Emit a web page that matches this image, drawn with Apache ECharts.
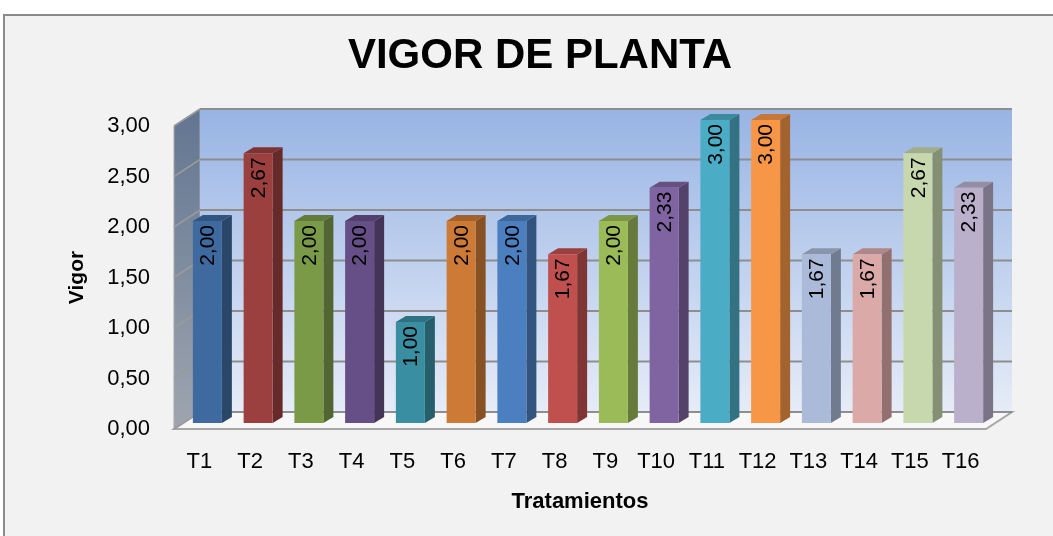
<!DOCTYPE html>
<html>
<head>
<meta charset="utf-8">
<script src="https://cdn.jsdelivr.net/npm/echarts@6/dist/echarts.min.js"></script>
<style>
html, body { margin: 0; padding: 0; background: #fff; }
#chart { width: 1053px; height: 536px; }
</style>
</head>
<body>
<div id="chart"></div>
<script>
var categories = ['T1','T2','T3','T4','T5','T6','T7','T8','T9','T10','T11','T12','T13','T14','T15','T16'];
var vigor = [2.00, 2.67, 2.00, 2.00, 1.00, 2.00, 2.00, 1.67, 2.00, 2.33, 3.00, 3.00, 1.67, 1.67, 2.67, 2.33];
var yTicks = [0, 0.5, 1, 1.5, 2, 2.5, 3];

var barColors = ['#3f6a9f','#9b403e','#7a9a48','#664f86','#3a8ea2','#cc7a36','#4c7fbf','#c0504d',
                 '#9bbb59','#8064a2','#4bacc6','#f79646','#aabad8','#dba9a8','#c8d8ae','#bab0cb'];

// 3d offsets (front plane -> bar plane -> back wall)
var BAR_DX = 8, BAR_DY = -6;
var WALL_DX = 26, WALL_DY = -17;
var DEPTH_X = 10, DEPTH_Y = -6;
var BAR_W = 29;

function shade(hex, k) {
	var n = parseInt(hex.slice(1), 16);
	var r = Math.round(((n >> 16) & 255) * k), g = Math.round(((n >> 8) & 255) * k), b = Math.round((n & 255) * k);
	return 'rgb(' + r + ',' + g + ',' + b + ')';
}
function fmt(v) { return v.toFixed(2).replace('.', ','); }

var myChart = echarts.init(document.getElementById('chart'));

function renderWalls(params, api) {
	var cs = params.coordSys;
	var gx = cs.x, gw = cs.width;
	var y0 = api.coord([0, 0])[1], y3 = api.coord([0, 3])[1];
	var kids = [];
	// left wall
	kids.push({
		type: 'polygon',
		shape: { points: [[gx, y0], [gx, y3], [gx + WALL_DX, y3 + WALL_DY], [gx + WALL_DX, y0 + WALL_DY]] },
		style: {
			fill: new echarts.graphic.LinearGradient(0, 0, 0, 1, [
				{ offset: 0, color: '#627591' }, { offset: 1, color: '#9ea5af' }
			]),
			stroke: '#a8a8a8', lineWidth: 1
		}
	});
	// back wall
	kids.push({
		type: 'rect',
		shape: { x: gx + WALL_DX, y: y3 + WALL_DY, width: gw, height: y0 - y3 },
		style: {
			fill: new echarts.graphic.LinearGradient(0, 0, 0, 1, [
				{ offset: 0, color: '#98b4e4' }, { offset: 1, color: '#e6ecf7' }
			])
		}
	});
	// floor
	kids.push({
		type: 'polygon',
		shape: { points: [[gx, y0], [gx + gw, y0], [gx + gw + WALL_DX, y0 + WALL_DY], [gx + WALL_DX, y0 + WALL_DY]] },
		style: { fill: '#f7f7f7', stroke: '#a6a6a6', lineWidth: 2 }
	});
	// grid lines
	yTicks.forEach(function (t) {
		var y = api.coord([0, t])[1];
		kids.push({
			type: 'line',
			shape: { x1: gx + WALL_DX, y1: y + WALL_DY, x2: gx + gw + WALL_DX, y2: y + WALL_DY },
			style: { stroke: '#8e8e8e', lineWidth: 2 }
		});
		kids.push({
			type: 'line',
			shape: { x1: gx, y1: y, x2: gx + WALL_DX, y2: y + WALL_DY },
			style: { stroke: '#9a9a9a', lineWidth: 1.5 }
		});
	});
	return { type: 'group', children: kids };
}

function renderBar(params, api) {
	var i = api.value(0), v = api.value(1);
	var top = api.coord([i, v]), base = api.coord([i, 0]);
	var cx = top[0] + BAR_DX;
	var ty = top[1] + BAR_DY, by = base[1] + BAR_DY;
	var xl = cx - BAR_W / 2, xr = cx + BAR_W / 2;
	var c = barColors[i];
	return {
		type: 'group',
		children: [
			{ type: 'polygon', shape: { points: [[xr, ty], [xr + DEPTH_X, ty + DEPTH_Y], [xr + DEPTH_X, by + DEPTH_Y], [xr, by]] },
			  style: { fill: shade(c, 0.66) } },
			{ type: 'polygon', shape: { points: [[xl, ty], [xr, ty], [xr + DEPTH_X, ty + DEPTH_Y], [xl + DEPTH_X, ty + DEPTH_Y]] },
			  style: { fill: shade(c, 0.8) } },
			{ type: 'rect', shape: { x: xl, y: ty, width: BAR_W, height: by - ty },
			  style: { fill: c } },
			{ type: 'text', x: cx + 1, y: ty + 4, rotation: Math.PI / 2,
			  style: { text: fmt(v), fill: '#000', font: '21px "Liberation Sans", Arial, sans-serif',
			           align: 'right', verticalAlign: 'middle' } }
		]
	};
}

var option = {
	backgroundColor: '#ffffff',
	animation: false,
	graphic: [{
		type: 'rect', z: -10,
		shape: { x: 4, y: 15, width: 1060, height: 540 },
		style: { fill: '#f2f2f2', stroke: '#8a8a8a', lineWidth: 2 }
	}],
	title: {
		text: 'VIGOR DE PLANTA',
		left: 535, top: 30, textAlign: 'center',
		textStyle: { fontFamily: '"Liberation Sans", Arial, sans-serif', fontSize: 42, fontWeight: 'bold', color: '#000' }
	},
	grid: { left: 174, right: 67, top: 126, bottom: 107 },
	xAxis: {
		type: 'category',
		data: categories,
		name: 'Tratamientos',
		nameLocation: 'middle',
		nameGap: 62,
		nameTextStyle: { fontFamily: '"Liberation Sans", Arial, sans-serif', fontSize: 22, fontWeight: 'bold', color: '#000' },
		axisLine: { show: false },
		axisTick: { show: false },
		axisLabel: { margin: 22, color: '#000', fontSize: 22, fontFamily: '"Liberation Sans", Arial, sans-serif' }
	},
	yAxis: {
		type: 'value',
		min: 0, max: 3, interval: 0.5,
		name: 'Vigor',
		nameLocation: 'middle',
		nameGap: 86,
		nameTextStyle: { fontFamily: '"Liberation Sans", Arial, sans-serif', fontSize: 21, fontWeight: 'bold', color: '#000' },
		axisLine: { show: false },
		axisTick: { show: false },
		splitLine: { show: false },
		axisLabel: { margin: 24, color: '#000', fontSize: 22, fontFamily: '"Liberation Sans", Arial, sans-serif',
			formatter: function (v) { return fmt(v); } }
	},
	series: [
		{
			type: 'custom',
			renderItem: renderWalls,
			data: [[0, 0]],
			z: 1,
			silent: true
		},
		{
			type: 'custom',
			renderItem: renderBar,
			data: vigor.map(function (v, i) { return [i, v]; }),
			encode: { x: 0, y: 1 },
			z: 2
		}
	]
};
myChart.setOption(option);
</script>
</body>
</html>
